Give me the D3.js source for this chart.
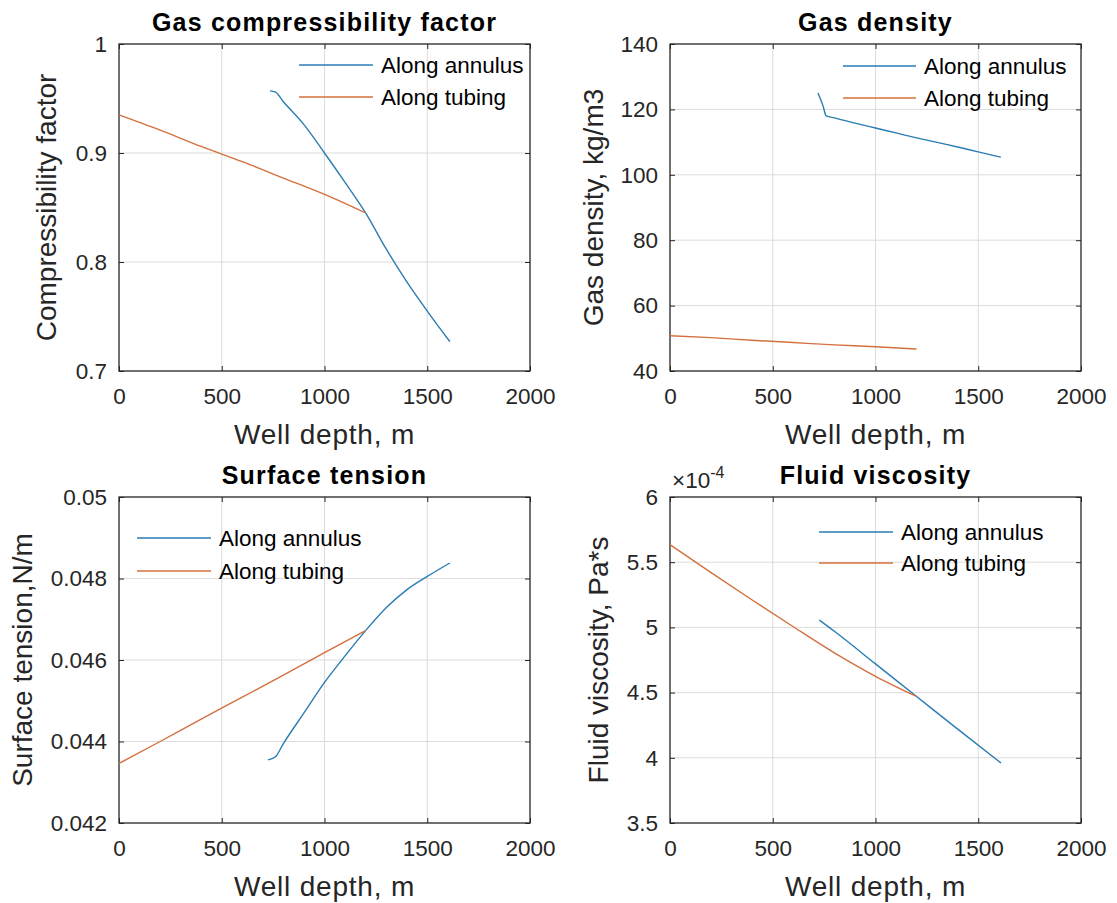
<!DOCTYPE html>
<html>
<head>
<meta charset="utf-8">
<script src="https://cdn.jsdelivr.net/npm/d3@7"></script>
<style>
  html, body { margin: 0; padding: 0; background: #fff; }
  svg text { font-family: "Liberation Sans", Arial, Helvetica, sans-serif; }
</style>
</head>
<body>
<svg id="chart" width="1117" height="903"></svg>
<script>
// ---------------- DATA ----------------
const xTicks = [0, 500, 1000, 1500, 2000];
const seriesNames = ["Along annulus", "Along tubing"];

// Gas compressibility factor
const zAnnulusDepth = [735, 760, 800, 900, 1000, 1100, 1200, 1300, 1400, 1500, 1610];
const zAnnulus      = [0.957, 0.956, 0.947, 0.926, 0.900, 0.873, 0.845, 0.812, 0.782, 0.755, 0.727];
const zTubingDepth  = [0, 200, 400, 600, 800, 1000, 1200];
const zTubing       = [0.935, 0.921, 0.906, 0.892, 0.877, 0.862, 0.845];
const zTicks        = [0.7, 0.8, 0.9, 1];

// Gas density
const rhoAnnulusDepth = [720, 745, 760, 800, 900, 1000, 1100, 1200, 1300, 1400, 1500, 1610];
const rhoAnnulus      = [125, 121, 118, 117.4, 115.8, 114.3, 112.8, 111.3, 109.9, 108.5, 107, 105.4];
const rhoTubingDepth  = [0, 200, 400, 600, 800, 1000, 1200];
const rhoTubing       = [50.8, 50.2, 49.4, 48.7, 48.0, 47.4, 46.7];
const rhoTicks        = [40, 60, 80, 100, 120, 140];

// Surface tension
const stAnnulusDepth = [725, 760, 800, 900, 1000, 1100, 1200, 1300, 1400, 1500, 1610];
const stAnnulus      = [0.04355, 0.04362, 0.04395, 0.0447, 0.04545, 0.0461, 0.04672, 0.04728, 0.04772, 0.04805, 0.04838];
const stTubingDepth  = [0, 200, 400, 600, 800, 1000, 1200];
const stTubing       = [0.04346, 0.04400, 0.04455, 0.04509, 0.04563, 0.04618, 0.04672];
const stTicks        = [0.042, 0.044, 0.046, 0.048, 0.05];

// Fluid viscosity (x 1e-4 Pa*s)
const muAnnulusDepth = [727, 800, 1000, 1200, 1400, 1611];
const muAnnulus      = [5.056, 4.97, 4.72, 4.47, 4.22, 3.96];
const muTubingDepth  = [0, 200, 400, 600, 800, 1000, 1200];
const muTubing       = [5.635, 5.42, 5.21, 5.005, 4.805, 4.625, 4.47];
const muTicks        = [3.5, 4, 4.5, 5, 5.5, 6];

// ---------------- DRAWING ----------------
const colors = ["#2a7db3", "#d4703f"];
const svg = d3.select("#chart");
svg.append("rect").attr("width", 1117).attr("height", 903).attr("fill", "#fff");

const panels = [
  { left: 119, top: 44, right: 530, bottom: 371, title: "Gas compressibility factor",
    ylabel: "Compressibility factor", ylabelX: 46, yTicks: zTicks, fmt: d => d3.format("~g")(d),
    series: [[zAnnulusDepth, zAnnulus], [zTubingDepth, zTubing]],
    legend: { x1: 299, x2: 373, y: 65, dy: 32 } },
  { left: 670, top: 44, right: 1081, bottom: 371, title: "Gas density",
    ylabel: "Gas density, kg/m3", ylabelX: 593, yTicks: rhoTicks, fmt: d => String(d),
    series: [[rhoAnnulusDepth, rhoAnnulus], [rhoTubingDepth, rhoTubing]],
    legend: { x1: 843, x2: 916, y: 66, dy: 32 } },
  { left: 119, top: 497, right: 530, bottom: 823, title: "Surface tension",
    ylabel: "Surface tension,N/m", ylabelX: 22, yTicks: stTicks, fmt: d => d3.format("~g")(d),
    series: [[stAnnulusDepth, stAnnulus], [stTubingDepth, stTubing]],
    legend: { x1: 137, x2: 211, y: 538, dy: 33 } },
  { left: 670, top: 497, right: 1081, bottom: 823, title: "Fluid viscosity",
    ylabel: "Fluid viscosity, Pa*s", ylabelX: 598, yTicks: muTicks, fmt: d => d3.format("~g")(d),
    series: [[muAnnulusDepth, muAnnulus], [muTubingDepth, muTubing]],
    legend: { x1: 819, x2: 893, y: 532, dy: 31 }, exponent: true }
];

const tickFont = 22.5, labelFont = 28, titleFont = 25, legendFont = 22.5;
const axisColor = "#262626";

panels.forEach(p => {
  const x = d3.scaleLinear().domain([0, 2000]).range([p.left, p.right]);
  const yd = d3.extent(p.yTicks);
  const y = d3.scaleLinear().domain(yd).range([p.bottom, p.top]);
  const g = svg.append("g");

  // grid
  g.append("g").selectAll("line").data(xTicks.slice(1, -1)).join("line")
    .attr("x1", d => x(d)).attr("x2", d => x(d)).attr("y1", p.top).attr("y2", p.bottom)
    .attr("stroke", "#dcdcdc").attr("stroke-width", 1);
  g.append("g").selectAll("line").data(p.yTicks.slice(1, -1)).join("line")
    .attr("y1", d => y(d)).attr("y2", d => y(d)).attr("x1", p.left).attr("x2", p.right)
    .attr("stroke", "#dcdcdc").attr("stroke-width", 1);

  // axes via d3 axis (inward ticks)
  const xb = g.append("g").attr("transform", `translate(0,${p.bottom})`)
    .call(d3.axisBottom(x).tickValues(xTicks).tickSize(-5).tickPadding(17).tickFormat(d3.format("d")));
  const xt = g.append("g").attr("transform", `translate(0,${p.top})`)
    .call(d3.axisTop(x).tickValues(xTicks).tickSize(-5).tickFormat(""));
  const yl = g.append("g").attr("transform", `translate(${p.left},0)`)
    .call(d3.axisLeft(y).tickValues(p.yTicks).tickSize(-5).tickPadding(12).tickFormat(p.fmt));
  const yr = g.append("g").attr("transform", `translate(${p.right},0)`)
    .call(d3.axisRight(y).tickValues(p.yTicks).tickSize(-5).tickFormat(""));
  [xb, xt, yl, yr].forEach(a => {
    a.select(".domain").remove();
    a.selectAll("line").attr("stroke", axisColor);
    a.selectAll("text").attr("font-size", tickFont).attr("fill", axisColor)
      .style("font-family", '"Liberation Sans", Arial, sans-serif');
  });
  xb.selectAll("text").attr("dy", "0.71em");

  // box
  g.append("rect").attr("x", p.left).attr("y", p.top)
    .attr("width", p.right - p.left).attr("height", p.bottom - p.top)
    .attr("fill", "none").attr("stroke", axisColor).attr("stroke-width", 1.3);

  // lines
  const line = d3.line().x(d => x(d[0])).y(d => y(d[1])).curve(d3.curveMonotoneX);
  p.series.forEach((s, i) => {
    const pts = s[0].map((d, k) => [d, s[1][k]]);
    g.append("path").datum(pts).attr("d", line)
      .attr("fill", "none").attr("stroke", colors[i]).attr("stroke-width", 1.4);
  });

  // legend
  seriesNames.forEach((name, i) => {
    const ly = p.legend.y + i * p.legend.dy;
    g.append("line").attr("x1", p.legend.x1).attr("x2", p.legend.x2)
      .attr("y1", ly).attr("y2", ly).attr("stroke", colors[i]).attr("stroke-width", 1.4);
    g.append("text").attr("x", p.legend.x2 + 8).attr("y", ly).attr("dy", "0.35em")
      .attr("font-size", legendFont).attr("fill", "#000").text(name);
  });

  // title
  const cx = (p.left + p.right) / 2;
  g.append("text").attr("x", cx).attr("y", p.top - 13).attr("text-anchor", "middle")
    .attr("font-size", titleFont).attr("font-weight", "bold").attr("fill", "#000")
    .attr("letter-spacing", "1.2").text(p.title);

  // x label
  g.append("text").attr("x", cx).attr("y", p.bottom + 73).attr("text-anchor", "middle")
    .attr("font-size", labelFont).attr("fill", axisColor).attr("letter-spacing", "0.8")
    .text("Well depth, m");

  // y label
  const cy = (p.top + p.bottom) / 2;
  g.append("text").attr("transform", `translate(${p.ylabelX},${cy}) rotate(-90)`)
    .attr("text-anchor", "middle").attr("dy", "0.35em")
    .attr("font-size", labelFont).attr("fill", axisColor).text(p.ylabel);

  if (p.exponent) {
    const t = g.append("text").attr("x", p.left + 2).attr("y", p.top - 9)
      .attr("font-size", tickFont).attr("fill", axisColor);
    t.append("tspan").text("\u00d710");
    t.append("tspan").attr("font-size", 16).attr("dy", -10).text("-4");
  }
});
</script>
</body>
</html>
